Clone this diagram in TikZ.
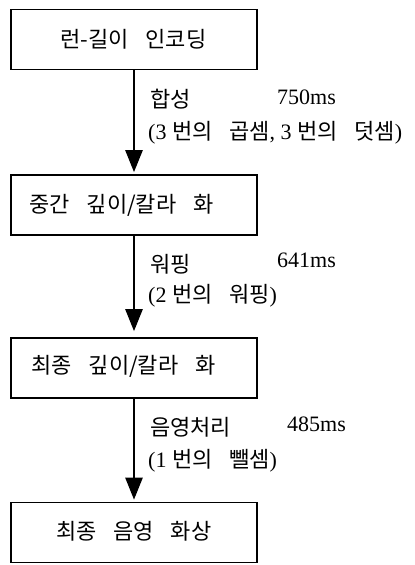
\documentclass[tikz,border=0pt]{standalone}
\usepackage{fontspec}
\setmainfont{Liberation Serif}
\newfontfamily\kr[WordSpace=3.4]{Noto Sans CJK KR}
\usetikzlibrary{arrows.meta}
\begin{document}
\begin{tikzpicture}[x=1pt,y=-1pt,
  box/.style={draw, line width=1.6pt, minimum width=246pt, minimum height=60pt, inner sep=0pt},
  btxt/.style={inner sep=0pt, font=\kr\fontsize{22}{24}\selectfont},
  lbl/.style={anchor=west, inner sep=0pt, font=\fontsize{22}{24}\selectfont},
  klbl/.style={anchor=west, inner sep=0pt, font=\kr\fontsize{22}{24}\selectfont},
  flow/.style={line width=2.4pt, -{Triangle[length=22pt,width=17pt]}}
]
\useasboundingbox (0,0) rectangle (415,565);
\node[box] (b1) at (134,39.5) {};
\node[box] (b2) at (134,205) {};
\node[box] (b3) at (134,368) {};
\node[box] (b4) at (134,532.5) {};
\node[btxt] (t1) at (133.5,39) {런-길이 인코딩};
\node[btxt] (t2) at (121.5,205) {중간 깊이/칼라 화};
\node[btxt] (t3) at (123.5,366) {최종 깊이/칼라 화};
\node[btxt] (t4) at (134,531) {최종 음영 화상};
\draw[flow, shorten >=2pt] (b1.south) -- (b2.north);
\draw[flow, shorten >=6pt] (b2.south) -- (b3.north);
\draw[flow, shorten >=2pt] (b3.south) -- (b4.north);
\node[klbl] (l1a) at (150,99) {합성};
\node[lbl] (l1b) at (277,97.5) {750ms};
\node[lbl] (l1c) at (148,133) {(3 {\kr 번의 곱셈}, 3 {\kr 번의 덧셈})};
\node[klbl] (l2a) at (150,264) {워핑};
\node[lbl] (l2b) at (277,260) {641ms};
\node[lbl] (l2c) at (148,296) {(2 {\kr 번의 워핑})};
\node[klbl] (l3a) at (150,427) {음영처리};
\node[lbl] (l3b) at (287,424.5) {485ms};
\node[lbl] (l3c) at (148,461) {(1 {\kr 번의 뺄셈})};
\end{tikzpicture}
\end{document}
